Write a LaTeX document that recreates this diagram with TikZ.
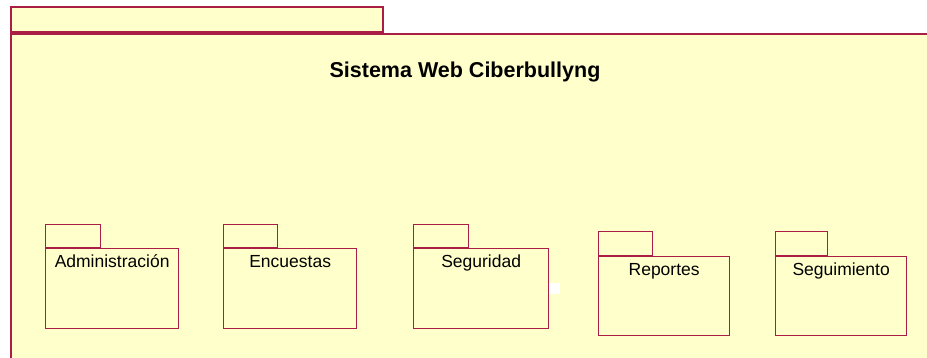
\documentclass[tikz,border=0pt]{standalone}
\usepackage{fontspec}
\setmainfont{Liberation Sans}
\usetikzlibrary{positioning}
\definecolor{pkgfill}{RGB}{255,255,204}
\definecolor{pkgline}{RGB}{170,30,70}
\tikzset{
  pkg/.style = {draw = pkgline, fill = pkgfill, shape = rectangle, line width = 1.3pt, inner sep = 0pt, anchor = north west},
  pkgtab/.style = {pkg, anchor = south west, minimum height = 23pt},
  pkglabel/.style = {anchor = base, inner sep = 0pt, font = \fontsize{17.5}{20}\selectfont},
}
\begin{document}
\begin{tikzpicture}[x = 1pt, y = -1pt]
\clip (0,0) rectangle (927,358);
\fill[white] (0,0) rectangle (927,358);
\node[pkg, line width = 1.6pt, minimum width = 930pt, minimum height = 340pt] (sistema) at (10,33) {};
\node[pkgtab, line width = 1.6pt, minimum width = 372pt, minimum height = 25pt] (sistematab) at (sistema.north west) {};
\node[anchor = base, font = \bfseries\fontsize{21.5}{24}\selectfont] (titulo) at (465,78) {Sistema Web Ciberbullyng};

\node[pkg, minimum width = 133pt, minimum height = 80pt] (adm) at (45,248) {};
\node[pkgtab, minimum width = 55pt] (admtab) at (adm.north west) {};
\node[pkglabel] (admlabel) at ([yshift = -19.5pt]adm.north) {Administración};

\node[pkg, minimum width = 133pt, minimum height = 80pt] (enc) at (223,248) {};
\node[pkgtab, minimum width = 54pt] (enctab) at (enc.north west) {};
\node[pkglabel] (enclabel) at ([yshift = -19.5pt]enc.north) {Encuestas};

\node[pkg, minimum width = 135pt, minimum height = 80pt] (seg) at (413,248) {};
\node[pkgtab, minimum width = 55pt] (segtab) at (seg.north west) {};
\node[pkglabel] (seglabel) at ([yshift = -19.5pt]seg.north) {Seguridad};
\fill[white] (549,283) rectangle (560,294);

\node[pkg, minimum width = 131pt, minimum height = 79pt] (rep) at (598,256) {};
\node[pkgtab, minimum width = 54pt, minimum height = 24pt] (reptab) at (rep.north west) {};
\node[pkglabel] (replabel) at ([yshift = -19.5pt]rep.north) {Reportes};

\node[pkg, minimum width = 131pt, minimum height = 79pt] (sgm) at (775,256) {};
\node[pkgtab, minimum width = 52pt, minimum height = 24pt] (sgmtab) at (sgm.north west) {};
\node[pkglabel] (sgmlabel) at ([yshift = -19.5pt]sgm.north) {Seguimiento};
\end{tikzpicture}
\end{document}
